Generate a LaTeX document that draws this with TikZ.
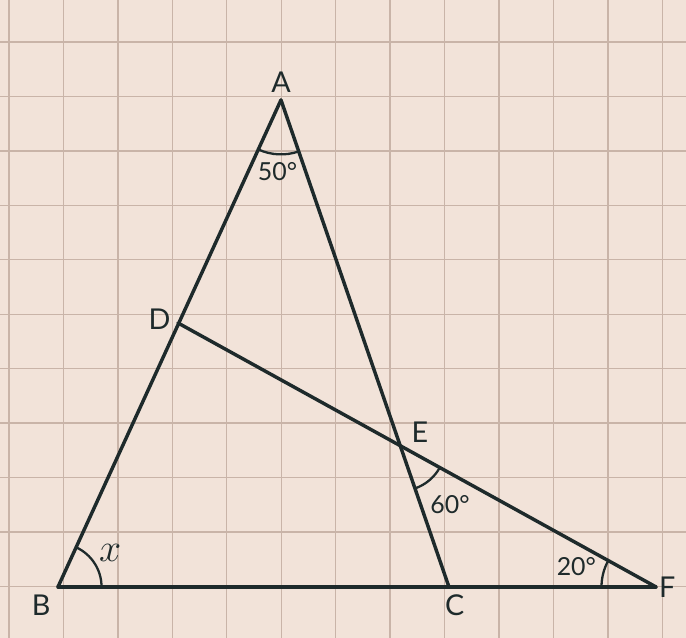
\documentclass[tikz,border=0pt]{standalone}
\usepackage{fontspec}
\setmainfont{Lato}
\usepackage{tkz-euclide}
\definecolor{PaperClr}{RGB}{242,227,217}
\definecolor{GridClr}{RGB}{201,180,168}
\definecolor{InkClr}{RGB}{30,42,43}

\begin{document}
\begin{tikzpicture}
\useasboundingbox (0,0) rectangle (12.6,11.717);
\fill[PaperClr] (0,0) rectangle (12.6,11.717);
\foreach \i in {0,...,12}
  \draw[GridClr,line width=0.7pt] (0.165+\i,0) -- (0.165+\i,11.717);
\foreach \j in {0,...,10}
  \draw[GridClr,line width=0.7pt] (0,0.946+\j) -- (12.6,0.946+\j);

\tkzSetUpLine[line width=1.8pt,color=InkClr]

\tkzDefPoints{5.161/9.881/A,1.065/0.937/B,8.246/0.937/C,12.048/0.937/F,3.269/5.785/D}
\tkzInterLL(A,C)(D,F) \tkzGetPoint{E}

\tkzDrawSegments(A,B B,F A,C D,F)

\tkzMarkAngle[line width=1.2pt,color=InkClr,size=1](B,A,C)
\tkzMarkAngle[line width=1.2pt,color=InkClr,size=0.8](C,B,A)
\tkzMarkAngle[line width=1.2pt,color=InkClr,size=0.83](C,E,F)
\tkzMarkAngle[line width=1.2pt,color=InkClr,size=1](D,F,B)

\tkzLabelAngle[pos=1.32,font=\fontsize{13}{15}\selectfont,text=InkClr](B,A,C){50°}
\tkzLabelAngle[pos=1.14,font=\fontsize{20}{22}\selectfont,text=InkClr](C,B,A){$x$}
\tkzLabelAngle[pos=1.42,font=\fontsize{13}{15}\selectfont,text=InkClr](C,E,F){60°}
\tkzLabelAngle[pos=1.51,font=\fontsize{13}{15}\selectfont,text=InkClr](D,F,B){20°}

\tkzLabelPoint[above,font=\fontsize{15}{17}\selectfont,text=InkClr](A){A}
\tkzLabelPoint[below left,font=\fontsize{15}{17}\selectfont,text=InkClr](B){B}
\tkzLabelPoint[below,xshift=3pt,font=\fontsize{15}{17}\selectfont,text=InkClr](C){C}
\tkzLabelPoint[left,yshift=2pt,font=\fontsize{15}{17}\selectfont,text=InkClr](D){D}
\tkzLabelPoint[above right,xshift=2pt,yshift=-2pt,font=\fontsize{15}{17}\selectfont,text=InkClr](E){E}
\tkzLabelPoint[right,inner sep=1pt,font=\fontsize{15}{17}\selectfont,text=InkClr](F){F}

\end{tikzpicture}
\end{document}
